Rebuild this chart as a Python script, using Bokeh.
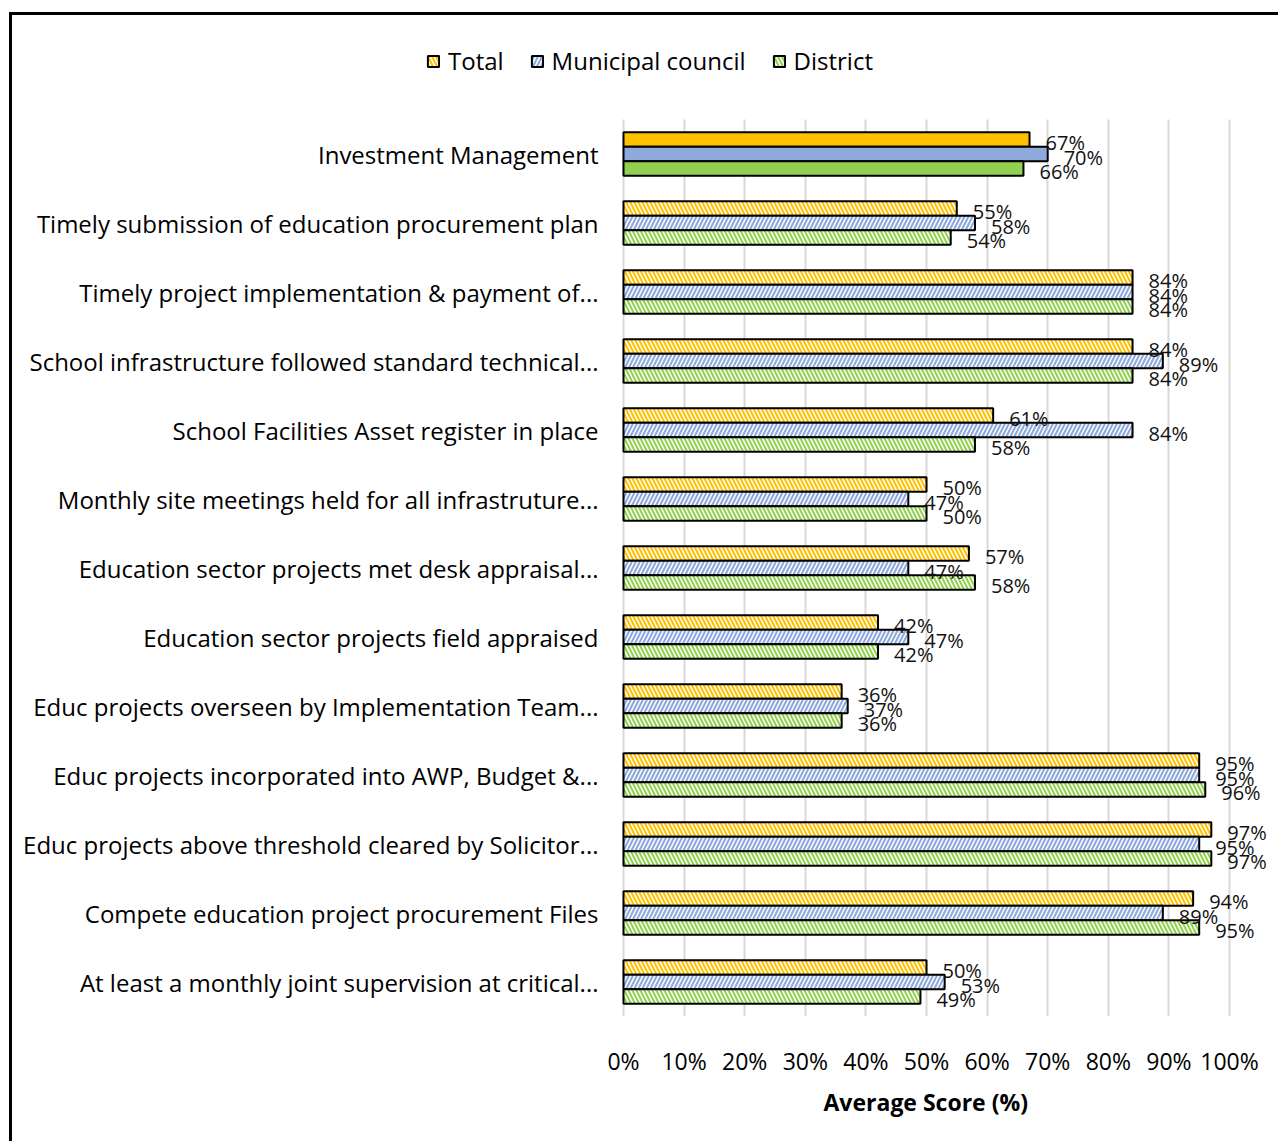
from bokeh.plotting import figure
from bokeh.models import (ColumnDataSource, Range1d, LabelSet, Legend, LegendItem,
                          FixedTicker, PrintfTickFormatter, Title)
from bokeh.core.properties import value
from bokeh.transform import dodge
from bokeh.embed import file_html
from bokeh.resources import INLINE

categories = [
    "Investment Management",
    "Timely submission of education procurement plan",
    "Timely project implementation & payment of...",
    "School infrastructure followed standard technical...",
    "School Facilities Asset register in place",
    "Monthly site meetings held for all infrastruture...",
    "Education sector projects met desk appraisal...",
    "Education sector projects field appraised",
    "Educ projects overseen by Implementation Team...",
    "Educ projects incorporated into AWP, Budget &...",
    "Educ projects above threshold cleared by Solicitor...",
    "Compete education project procurement Files",
    "At least a monthly joint supervision at critical...",
]
total = [67, 55, 84, 84, 61, 50, 57, 42, 36, 95, 97, 94, 50]
municipal = [70, 58, 84, 89, 84, 47, 47, 47, 37, 95, 95, 89, 53]
district = [66, 54, 84, 84, 58, 50, 58, 42, 36, 96, 97, 95, 49]
series_names = ["Total", "Municipal council", "District"]
x_ticks = [0, 10, 20, 30, 40, 50, 60, 70, 80, 90, 100]

colors = ["#FFC000", "#8EA9DB", "#92D050"]
hatches = ["\\", "/", "\\"]
series_values = [total, municipal, district]

FONT = "Open Sans"
W = 1269
H = 1129
BOTTOM = 128
n = len(categories)
# category slots: top category highest
ypos = [n - 1 - i for i in range(n)]

# frame spans the whole width; 0 % sits 611 px from the left, 100 % spans 606 px
px_per_unit = 6.06
x_start = -611 / px_per_unit
x_end = (W - 4 - 611) / px_per_unit
slot_px = 69.0
frame_h = H - BOTTOM
y_start = -0.5
y_end = y_start + frame_h / slot_px

p = figure(width=W, height=H,
           y_range=Range1d(y_start, y_end),
           x_range=Range1d(x_start, x_end),
           output_backend="svg", toolbar_location=None,
           y_axis_location=None,
           min_border_left=0, min_border_right=4,
           min_border_top=0, min_border_bottom=BOTTOM)

p.styles = {"margin-left": "9px", "margin-top": "12px",
            "border-top": "3px solid black", "border-left": "3px solid black"}

# vertical grid lines only over the bar area
try:
    p.xgrid.cross_bounds = (y_start, n - 0.5)
    p.xgrid.grid_line_color = "#D9D9D9"
    p.xgrid.grid_line_width = 2
except Exception:
    p.xgrid.grid_line_color = None
    p.segment(x0=x_ticks, x1=x_ticks, y0=[y_start] * len(x_ticks), y1=[n - 0.5] * len(x_ticks),
              line_color="#D9D9D9", line_width=2, level="underlay")
p.ygrid.grid_line_color = None

bar_h = 0.21
legend_items = []
for k, (name, vals, col, hp) in enumerate(zip(series_names, series_values, colors, hatches)):
    off = bar_h * (1 - k)
    src_solid = ColumnDataSource(dict(y=ypos[:1], val=vals[:1]))
    src_hatch = ColumnDataSource(dict(y=ypos[1:], val=vals[1:]))
    src_all = ColumnDataSource(dict(y=ypos, val=vals, lab=[f"{v}%" for v in vals]))
    p.hbar(y=dodge("y", off), left=0, right="val", height=bar_h,
           fill_color=col, line_color="black", line_width=2, source=src_solid)
    r = p.hbar(y=dodge("y", off), left=0, right="val", height=bar_h,
               fill_color=col, line_color="black", line_width=2,
               hatch_pattern=hp, hatch_color="white", hatch_weight=1.5, hatch_scale=8,
               source=src_hatch)
    legend_items.append(LegendItem(label=name, renderers=[r]))
    labels = LabelSet(x="val", y=dodge("y", off), text="lab",
                      x_offset=16, y_offset=-3, text_baseline="middle", text_align="left",
                      text_font=value(FONT), text_font_size="20px", text_color="#111111",
                      source=src_all)
    p.add_layout(labels)

# category labels (left of the 0 % line)
cat_src = ColumnDataSource(dict(cat=categories, y=ypos, x0=[0] * n))
cat_labels = LabelSet(x="x0", y="y", text="cat", source=cat_src,
                      x_offset=-25, text_align="right", text_baseline="middle",
                      text_font=value(FONT), text_font_size="24px", text_color="black")
p.add_layout(cat_labels)

legend = Legend(items=legend_items, orientation="horizontal", location=(410, 935),
                label_text_font=FONT, label_text_font_size="24px", label_text_color="black",
                glyph_width=14, glyph_height=14, label_standoff=8, spacing=26,
                padding=4, margin=0, border_line_alpha=0, background_fill_alpha=0)
p.add_layout(legend)

p.xaxis.ticker = FixedTicker(ticks=x_ticks)
p.xaxis.formatter = PrintfTickFormatter(format="%d%%")
p.xaxis.major_label_text_font = FONT
p.xaxis.major_label_text_font_size = "23px"
p.xaxis.major_label_text_color = "black"
p.xaxis.major_label_standoff = 22
p.xaxis.axis_line_color = None
p.xaxis.major_tick_line_color = None
p.xaxis.minor_tick_line_color = None

xtitle = Title(text="Average Score (%)", align="left", offset=811,
               text_font=FONT, text_font_size="23px", text_font_style="bold",
               text_color="black", standoff=8)
p.add_layout(xtitle, "below")

p.outline_line_color = None

open("out.html", "w").write(file_html(p, INLINE))
